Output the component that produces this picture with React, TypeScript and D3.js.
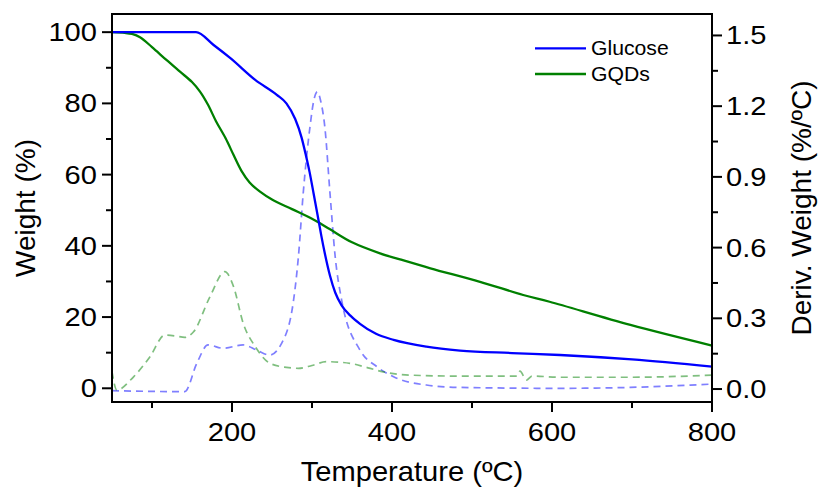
import React from "react";
import * as d3 from "d3";

// ---- data ----
const glucoseTemp = [50, 100, 155, 177, 198, 229, 256, 268, 279, 287, 292, 297, 302, 307, 311.5, 316, 322.5, 329, 337, 348, 360, 380, 402, 443, 485, 550, 610, 700, 800];
const glucoseWeight = [100, 100, 100, 96.4, 92.7, 86.6, 82.4, 80, 75.6, 70.4, 65.8, 60.7, 54.7, 48.6, 43, 37.9, 31.6, 26.9, 23.3, 20.4, 18.1, 15.3, 13.6, 11.7, 10.6, 9.9, 9.35, 8.1, 6.1];

const gqdTemp = [50, 66, 75, 85, 100, 118, 135, 150, 160, 170, 180, 192, 202, 212, 222, 235, 250, 275, 300, 322, 350, 385, 410, 448, 510, 564, 597, 698, 800];
const gqdWeight = [100, 99.8, 99.5, 98.6, 95.8, 92.2, 88.9, 86, 83.3, 79.6, 75, 70.2, 65.5, 61, 57.8, 55.2, 53, 50.3, 47.6, 44.7, 41, 37.9, 36.2, 33.7, 29.9, 26.2, 24.3, 17.8, 12];

const glucoseDerivTemp = [50, 141, 156, 170, 189, 214, 231, 247, 262, 277, 283, 289, 297.5, 302, 306.7, 311, 316, 322.5, 329, 337, 360, 381, 402, 443, 485, 610, 698, 800];
const glucoseDeriv = [-0.007, -0.011, 0.109, 0.187, 0.173, 0.187, 0.165, 0.144, 0.194, 0.378, 0.561, 0.83, 1.113, 1.22, 1.261, 1.22, 1.113, 0.83, 0.561, 0.378, 0.165, 0.095, 0.052, 0.017, 0.007, 0.003, 0.007, 0.021];

const gqdDerivTemp = [50, 56, 77, 97.5, 116, 130, 141, 152, 172.5, 191, 202, 214, 229, 247.5, 268, 283, 300, 318, 347.5, 370, 389, 422.5, 485, 556, 560, 568, 575, 610, 698, 800];
const gqdDeriv = [0.073, -0.004, 0.052, 0.137, 0.229, 0.225, 0.219, 0.243, 0.392, 0.498, 0.434, 0.279, 0.18, 0.109, 0.092, 0.088, 0.1, 0.116, 0.109, 0.09, 0.073, 0.059, 0.055, 0.055, 0.076, 0.038, 0.055, 0.05, 0.05, 0.059];

const xMajorTicks = [200, 400, 600, 800];
const xMinorTicks = [100, 300, 500, 700];
const yMajorTicks = [0, 20, 40, 60, 80, 100];
const yMinorTicks = [10, 30, 50, 70, 90];
const y2MajorTicks = [0, 0.3, 0.6, 0.9, 1.2, 1.5];
const y2MinorTicks = [0.15, 0.45, 0.75, 1.05, 1.35];

const seriesNames = ["Glucose", "GQDs"];
const seriesColors = ["#0000ff", "#008000"];

// ---- layout ----
const W = 819, H = 488;
const L = 112, R = 712, T = 14, B = 402;
const FONT = "'Liberation Sans', Arial, Helvetica, sans-serif";

const x = d3.scaleLinear().domain([50, 800]).range([L, R]);
const y = d3.scaleLinear().domain([-3.85, 105.1]).range([B, T]);
const y2 = d3.scaleLinear().domain([-0.055, 1.591]).range([B, T]);

function Txt({ x: tx, y: ty, size, anchor = "middle", sx = 1, rotate = 0, children }: any) {
  return (
    <g transform={`translate(${tx},${ty}) rotate(${rotate}) scale(${sx},1)`}>
      <text x={0} y={0} fontSize={size} fontFamily={FONT} textAnchor={anchor} fill="#000">
        {children}
      </text>
    </g>
  );
}

export default function App() {
  const mk = (xs: number[], ys: number[], sc: any, curve: any) =>
    d3.line<number>().x((_, i) => x(xs[i])).y((v) => sc(v)).curve(curve)(ys) as string;

  const smooth = d3.curveCatmullRom.alpha(0.5);
  const gluc = mk(glucoseTemp, glucoseWeight, y, d3.curveMonotoneX);
  const gqd = mk(gqdTemp, gqdWeight, y, smooth);
  const glucD = mk(glucoseDerivTemp, glucoseDeriv, y2, d3.curveMonotoneX);
  const gqdD = mk(gqdDerivTemp, gqdDeriv, y2, d3.curveMonotoneX);

  const fmt1 = d3.format(".1f");
  const tickSize = 26, sx = 1.12;

  return (
    <svg width={W} height={H} style={{ position: "absolute", left: 0, top: 0, background: "#fff" }}>
      <rect x={0} y={0} width={W} height={H} fill="#fff" />
      {/* derivative curves */}
      <path d={glucD} fill="none" stroke={seriesColors[0]} strokeOpacity={0.5} strokeWidth={1.7} strokeDasharray="7,5" />
      <path d={gqdD} fill="none" stroke={seriesColors[1]} strokeOpacity={0.5} strokeWidth={1.7} strokeDasharray="7,5" />
      {/* weight curves */}
      <path d={gqd} fill="none" stroke={seriesColors[1]} strokeWidth={2.3} />
      <path d={gluc} fill="none" stroke={seriesColors[0]} strokeWidth={2.3} />

      {/* frame */}
      <path d={`M${L},${T}H${R}V${B}H${L}Z`} fill="none" stroke="#000" strokeWidth={2} />

      {/* x ticks */}
      {xMajorTicks.map((t) => (
        <g key={"xm" + t}>
          <line x1={x(t)} x2={x(t)} y1={B} y2={B + 10} stroke="#000" strokeWidth={2} />
          <Txt x={x(t)} y={441} size={tickSize} sx={sx}>{t}</Txt>
        </g>
      ))}
      {xMinorTicks.map((t) => (
        <line key={"xn" + t} x1={x(t)} x2={x(t)} y1={B} y2={B + 6} stroke="#000" strokeWidth={2} />
      ))}

      {/* left y ticks */}
      {yMajorTicks.map((t) => (
        <g key={"ym" + t}>
          <line x1={L - 10} x2={L} y1={y(t)} y2={y(t)} stroke="#000" strokeWidth={2} />
          <Txt x={97} y={y(t) + 9} size={tickSize} sx={sx} anchor="end">{t}</Txt>
        </g>
      ))}
      {yMinorTicks.map((t) => (
        <line key={"yn" + t} x1={L - 6} x2={L} y1={y(t)} y2={y(t)} stroke="#000" strokeWidth={2} />
      ))}

      {/* right y ticks */}
      {y2MajorTicks.map((t) => (
        <g key={"y2m" + t}>
          <line x1={R} x2={R + 10} y1={y2(t)} y2={y2(t)} stroke="#000" strokeWidth={2} />
          <Txt x={726} y={y2(t) + 9} size={tickSize} sx={sx} anchor="start">{fmt1(t)}</Txt>
        </g>
      ))}
      {y2MinorTicks.map((t) => (
        <line key={"y2n" + t} x1={R} x2={R + 6} y1={y2(t)} y2={y2(t)} stroke="#000" strokeWidth={2} />
      ))}

      {/* axis titles */}
      <Txt x={(L + R) / 2} y={481} size={28} sx={1.04}>Temperature (ºC)</Txt>
      <Txt x={35} y={(T + B) / 2} size={28} rotate={-90}>Weight (%)</Txt>
      <Txt x={811} y={(T + B) / 2} size={28} rotate={-90}>Deriv. Weight (%/ºC)</Txt>

      {/* legend */}
      {seriesNames.map((n, i) => (
        <g key={n}>
          <line x1={535} x2={586} y1={48.3 + i * 25.7} y2={48.3 + i * 25.7} stroke={seriesColors[i]} strokeWidth={2.3} />
          <Txt x={591} y={48.3 + i * 25.7 + 7} size={20} sx={1.06} anchor="start">{n}</Txt>
        </g>
      ))}
    </svg>
  );
}
